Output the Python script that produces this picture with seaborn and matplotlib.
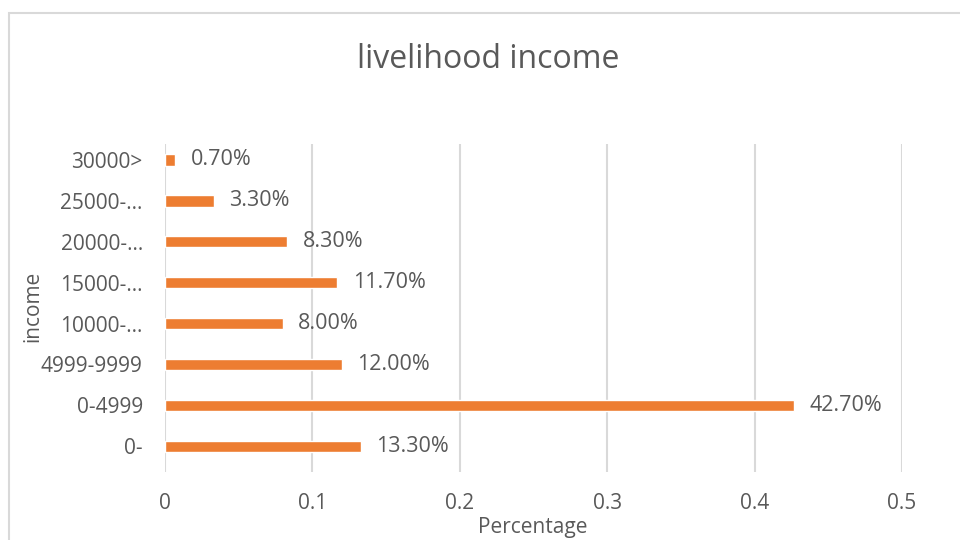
import matplotlib
matplotlib.use("Agg")
import matplotlib.pyplot as plt
import seaborn as sns
import pandas as pd
from matplotlib.patches import Rectangle

# Income brackets listed top to bottom, with the share of households in each
categories = ["30000>", "25000-...", "20000-...", "15000-...", "10000-...",
              "4999-9999", "0-4999", "0-"]
shares = [0.007, 0.033, 0.083, 0.117, 0.080, 0.120, 0.427, 0.133]
value_labels = ["0.70%", "3.30%", "8.30%", "11.70%", "8.00%",
                "12.00%", "42.70%", "13.30%"]
x_ticks = [0, 0.1, 0.2, 0.3, 0.4, 0.5]
x_tick_labels = ["0", "0.1", "0.2", "0.3", "0.4", "0.5"]

df = pd.DataFrame({"income": categories, "share": shares})

sns.set_theme(style="white")
plt.rcParams["font.family"] = ["Open Sans", "DejaVu Sans"]

text_color = "#595959"
grid_color = "#D9D9D9"
bar_color = "#ED7D31"
fs = 15

fig = plt.figure(figsize=(9.6, 5.4), dpi=100)
fig.patch.set_facecolor("white")
ax = fig.add_axes([165 / 960, 1 - 472 / 540, (902 - 165) / 960, (472 - 144) / 540])

sns.barplot(data=df, x="share", y="income", order=categories, orient="h",
            color=bar_color, saturation=1, width=0.28, ax=ax)

ax.set_xlim(0, 0.5)
ax.set_ylim(len(categories) - 1 + 0.63, -0.39)
ax.set_xticks(x_ticks)
ax.set_xticklabels(x_tick_labels)
ax.xaxis.grid(True, color=grid_color, linewidth=1.5)
ax.yaxis.grid(False)
ax.set_axisbelow(True)
for side in ["top", "right", "bottom", "left"]:
    ax.spines[side].set_visible(False)
ax.tick_params(axis="both", length=0, colors=text_color, labelsize=fs)
ax.tick_params(axis="x", pad=15)
ax.tick_params(axis="y", pad=16)

for i, (v, lab) in enumerate(zip(shares, value_labels)):
    ax.annotate(lab, xy=(v, i), xytext=(11, 0), textcoords="offset points",
                ha="left", va="center", fontsize=15.5, color=text_color)

ax.set_xlabel("")
ax.set_ylabel("")
fig.text(533 / 960, 1 - 527 / 540, "Percentage", ha="center", va="center",
         fontsize=fs, color=text_color)
fig.text(33 / 960, 1 - 306 / 540, "income", ha="center", va="center",
         rotation=90, fontsize=fs, color=text_color)
fig.text(488 / 960, 1 - 60 / 540, "livelihood income", ha="center", va="center",
         fontsize=23, color=text_color)

# Chart frame
fig.patches.append(Rectangle((9 / 960, -0.1), 1.2, 1 - 13 / 540 + 0.1,
                             transform=fig.transFigure, fill=False,
                             edgecolor="#D9D9D9", linewidth=1.5))

fig.savefig("out.png", dpi=100)
